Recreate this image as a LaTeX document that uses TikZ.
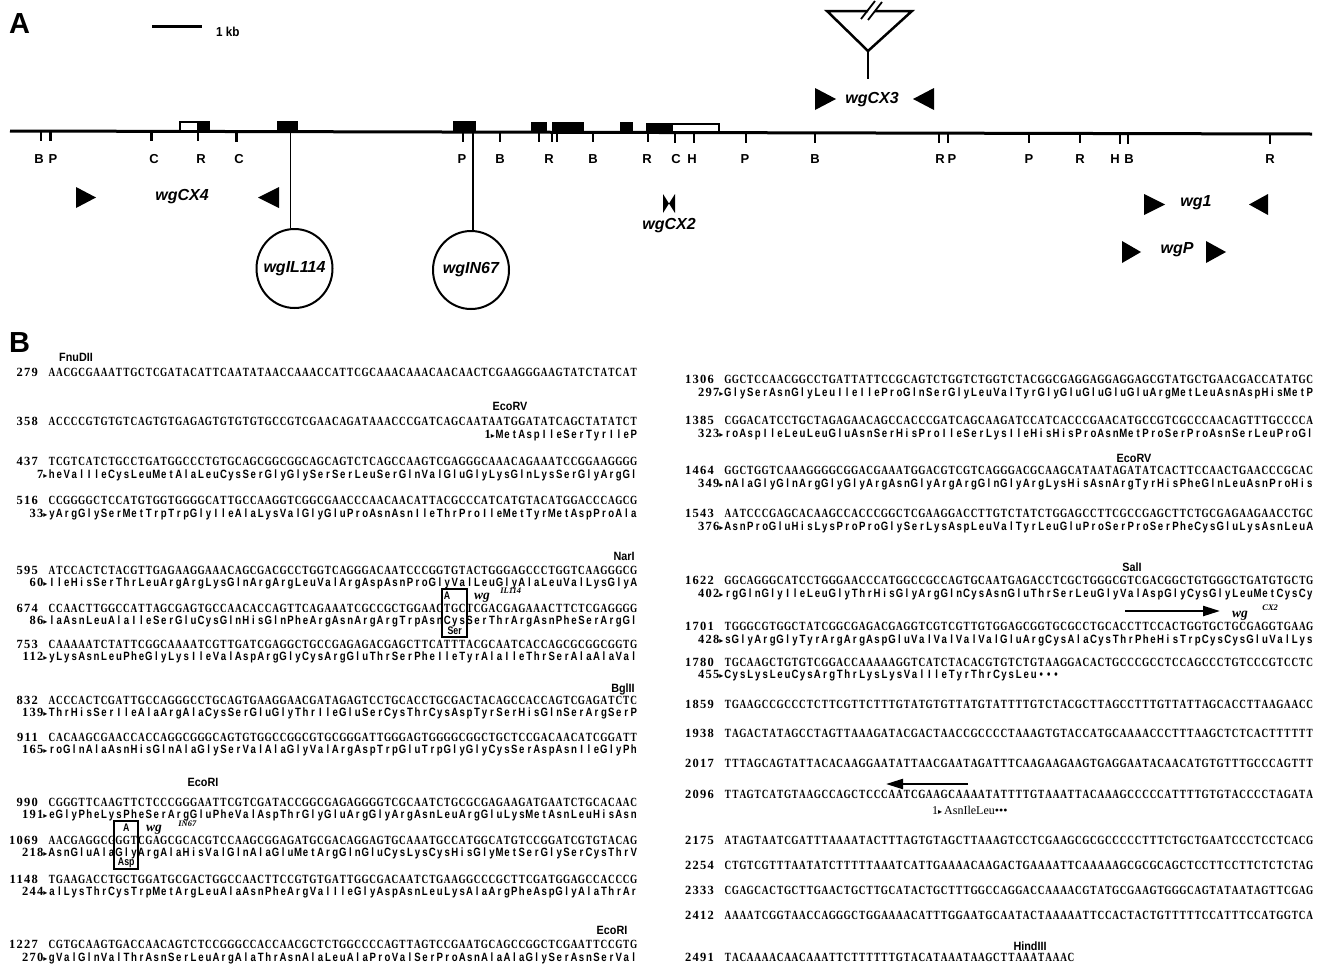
\documentclass[tikz,border=0pt]{standalone}
\usepackage{fontspec}
\usetikzlibrary{arrows.meta,shapes.geometric}
\setmainfont{Liberation Sans}
\newfontfamily\dnaf[FakeStretch=0.74]{Liberation Serif}
\newfontfamily\aaf[FakeStretch=0.8]{Liberation Sans}
\newfontfamily\numf[LetterSpace=10]{Liberation Serif}
\newfontfamily\wgf{Liberation Serif}
\newfontfamily\labf[FakeStretch=0.9]{Liberation Sans}
\newfontfamily\symf{DejaVu Sans}
\newlength\seqcw \setlength\seqcw{7.46pt}
\ExplSyntaxOn
\NewDocumentCommand\fixseq{m}{\tl_map_inline:nn{#1}{\makebox[\seqcw][c]{##1}}}
\ExplSyntaxOff
\tikzset{
 dnatext/.style={anchor=base west,inner sep=0pt,font=\dnaf\bfseries\fontsize{12.5}{13}\selectfont},
 aatext/.style={anchor=base west,inner sep=0pt,font=\aaf\bfseries\fontsize{12}{12}\selectfont},
 numtext/.style={anchor=base east,inner sep=0pt,font=\numf\bfseries\fontsize{12.5}{12.5}\selectfont},
 enz/.style={inner sep=0pt,font=\labf\bfseries\fontsize{12}{12}\selectfont},
 sitelab/.style={inner sep=0pt,font=\bfseries\fontsize{13}{13}\selectfont},
 rtick/.style={line width=2.6pt},
 gname/.style={inner sep=0pt,font=\bfseries\itshape\fontsize{16}{16}\selectfont},
 panel/.style={anchor=base west,inner sep=0pt,font=\bfseries\fontsize{29}{29}\selectfont},
 mutbox/.style={draw,line width=1.8pt},
 wglab/.style={anchor=base west,inner sep=0pt,font=\wgf\bfseries\itshape\fontsize{13.5}{13.5}\selectfont},
 wgsup/.style={anchor=base west,inner sep=0pt,font=\wgf\bfseries\itshape\fontsize{8.5}{9}\selectfont},
 mutlab/.style={inner sep=0pt,font=\aaf\bfseries\fontsize{11}{11}\selectfont},
 seqarrow/.style={line width=2.2pt,-{Triangle[length=17pt,width=10pt]}}
}
\newcommand\dnarow[5]{\node[dnatext] (#1) at (#2,#3) {\fixseq{#5}};
 \node[numtext] (#1n) at ({#2-10},#3) {#4};}
\newcommand\aarow[5]{\node[aatext] (#1) at (#2,#3) {\fixseq{#5}};
 \node[numtext] (#1n) at ({#2-0.5},#3) {#4{\symf\fontsize{8}{8}\selectfont ▸}};}
\begin{document}
\begin{tikzpicture}[x=1pt,y=-1pt]
\fill[white] (0,0) rectangle (1325,967);
\useasboundingbox (0,0) rectangle (1325,967);
% ================= Part A =================
\node[panel] (pA) at (9,33) {A};
\coordinate (sbL) at (152,26); \coordinate (sbR) at (202,26);
\draw[line width=3pt] (sbL) -- (sbR);
\node[anchor=base west,inner sep=0pt,font=\labf\bfseries\fontsize{13}{13}\selectfont] (kb) at (216,36) {1 kb};
\coordinate (gL) at (10,131); \coordinate (gR) at (1312,134);
\draw[line width=3pt] (gL) -- (gR);
% exons
\filldraw[fill=white,line width=2.4pt] (180.2,122.2) rectangle (208.8,131.4);
\fill (197,121) rectangle (210,131.5);
\fill (277,121) rectangle (298,131.7);
\fill (453,121) rectangle (476,132.1);
\fill (531,122) rectangle (547,132.2);
\fill (552,122) rectangle (584,132.3);
\fill (620,122) rectangle (633,132.4);
\filldraw[fill=white,line width=2.4pt] (647.2,124.2) rectangle (718.8,132.6);
\fill (646,123) rectangle (673,132.6);
% ticks
\foreach \x in {41,50.5,151.5,198,236.5,463,500,539,552,557,593,648,675,694,746,815,939,948,1029,1080,1120,1128,1270}
 \draw[rtick] (\x,{131+0.0023*(\x-10)}) -- ++(0,10);
\foreach \x/\t [count=\i] in {39/B,53/P,154/C,201/R,239/C,462/P,500/B,549/R,593/B,647/R,676/C,692/H,745/P,815/B,940/R,952/P,1029/P,1080/R,1115/H,1129/B,1270/R}
 \node[sitelab] (site\i) at (\x,159.5) {\t};
% insertion triangle
\coordinate (tL) at (827,11); \coordinate (tR) at (912,11); \coordinate (tA) at (868,51); \coordinate (tS) at (868,79);
\draw[line width=2.5pt,line join=miter] (868,11) -- (tL) -- (tA) -- (tR) -- (875,11);
\draw[line width=2.5pt] (tA) -- (tS);
\draw[line width=1.8pt] (861,19) -- (875,1);
\draw[line width=1.8pt] (868,20) -- (882,2);
% primers
\fill (815,88) -- (815,110) -- (836,99) -- cycle;
\fill (934,88) -- (934,110) -- (913,99) -- cycle;
\node[gname] (pCX3) at (872,100) {wgCX3};
\fill (76,187) -- (76,208) -- (96,197.5) -- cycle;
\fill (279,187) -- (279,208) -- (258,197.5) -- cycle;
\node[gname] (pCX4) at (182,197) {wgCX4};
\fill (663,194) -- (663,213) -- (669,203.5) -- cycle;
\fill (675,194) -- (675,213) -- (669,203.5) -- cycle;
\node[gname] (pCX2) at (669,226) {wgCX2};
\fill (1144,194) -- (1144,215) -- (1165,204.5) -- cycle;
\fill (1268,194) -- (1268,215) -- (1249,204.5) -- cycle;
\node[gname] (pwg1) at (1196,203) {wg1};
\fill (1122,241) -- (1122,263) -- (1141,252) -- cycle;
\fill (1206,241) -- (1206,263) -- (1226,252) -- cycle;
\node[gname] (pwgP) at (1177,250) {wgP};
% alleles
\node[draw,ellipse,line width=2pt,minimum width=76pt,minimum height=79pt,inner sep=0pt] (cIL) at (294.5,268.5) {};
\node[gname] (tIL) at (cIL) {wgIL114};
\coordinate (sIL) at (290.4,131.6);
\draw[line width=1.8pt] (sIL) -- (sIL |- cIL.north);
\node[draw,ellipse,line width=2pt,minimum width=76pt,minimum height=78pt,inner sep=0pt] (cIN) at (471,270) {};
\node[gname] (tIN) at (cIN) {wgIN67};
\coordinate (sIN) at (473.3,132);
\draw[line width=1.8pt] (sIN) -- (sIN |- cIN.north);
% ================= Part B =================
\node[panel] (pB) at (9,352) {B};
% ---- left column
\node[enz] (eFnu) at (76,357) {FnuDII};
\dnarow{d279}{48}{376}{279}{AACGCGAAATTGCTCGATACATTCAATATAACCAAACCATTCGCAAACAAACAACAACTCGAAGGGAAGTATCTATCAT}
\node[enz] (eRV1) at (510,406) {EcoRV};
\dnarow{d358}{48}{425}{358}{ACCCCGTGTGTCAGTGTGAGAGTGTGTGTGCCGTCGAACAGATAAACCCGATCAGCAATAATGGATATCAGCTATATCT}
\aarow{a1}{495.6}{438}{1}{MetAspIleSerTyrIleP}
\dnarow{d437}{48}{465}{437}{TCGTCATCTGCCTGATGGCCCTGTGCAGCGGCGGCAGCAGTCTCAGCCAAGTCGAGGGCAAACAGAAATCCGGAAGGGG}
\aarow{a7}{48}{478}{7}{heValIleCysLeuMetAlaLeuCysSerGlyGlySerSerLeuSerGlnValGluGlyLysGlnLysSerGlyArgGl}
\dnarow{d516}{48}{504}{516}{CCGGGGCTCCATGTGGTGGGGCATTGCCAAGGTCGGCGAACCCAACAACATTACGCCCATCATGTACATGGACCCAGCG}
\aarow{a33}{48}{517}{33}{yArgGlySerMetTrpTrpGlyIleAlaLysValGlyGluProAsnAsnIleThrProIleMetTyrMetAspProAla}
\node[enz] (eNar) at (624,556) {NarI};
\dnarow{d595}{48}{574}{595}{ATCCACTCTACGTTGAGAAGGAAACAGCGACGCCTGGTCAGGGACAATCCCGGTGTACTGGGAGCCCTGGTCAAGGGCG}
\aarow{a60}{48}{586}{60}{IleHisSerThrLeuArgArgLysGlnArgArgLeuValArgAspAsnProGlyValLeuGlyAlaLeuValLysGlyA}
\dnarow{d674}{48}{612}{674}{CCAACTTGGCCATTAGCGAGTGCCAACACCAGTTCAGAAATCGCCGCTGGAACTGCTCGACGAGAAACTTCTCGAGGGG}
\aarow{a86}{48}{624}{86}{laAsnLeuAlaIleSerGluCysGlnHisGlnPheArgAsnArgArgTrpAsnCysSerThrArgAsnPheSerArgGl}
\node[mutbox,minimum width=25pt,minimum height=48pt,inner sep=0pt] (bIL) at (454.6,613) {};
\node[mutlab] (mIL1) at (447.1,596) {A};
\node[mutlab] (mIL2) at (454.6,631) {Ser};
\node[wglab] (wIL) at (474,599.5) {wg};
\node[wgsup] (wILs) at ([xshift=10pt,yshift=6pt]wIL.base east) {IL114};
\dnarow{d753}{48}{648}{753}{CAAAAATCTATTCGGCAAAATCGTTGATCGAGGCTGCCGAGAGACGAGCTTCATTTACGCAATCACCAGCGCGGCGGTG}
\aarow{a112}{48}{660}{112}{yLysAsnLeuPheGlyLysIleValAspArgGlyCysArgGluThrSerPheIleTyrAlaIleThrSerAlaAlaVal}
\node[enz] (eBgl) at (623,689) {BglII};
\dnarow{d832}{48}{704}{832}{ACCCACTCGATTGCCAGGGCCTGCAGTGAAGGAACGATAGAGTCCTGCACCTGCGACTACAGCCACCAGTCGAGATCTC}
\aarow{a139}{48}{716}{139}{ThrHisSerIleAlaArgAlaCysSerGluGlyThrIleGluSerCysThrCysAspTyrSerHisGlnSerArgSerP}
\dnarow{d911}{48}{741}{911}{CACAAGCGAACCACCAGGCGGGCAGTGTGGCCGGCGTGCGGGATTGGGAGTGGGGCGGCTGCTCCGACAACATCGGATT}
\aarow{a165}{48}{753}{165}{roGlnAlaAsnHisGlnAlaGlySerValAlaGlyValArgAspTrpGluTrpGlyGlyCysSerAspAsnIleGlyPh}
\node[enz] (eRI1) at (203,782) {EcoRI};
\dnarow{d990}{48}{806}{990}{CGGGTTCAAGTTCTCCCGGGAATTCGTCGATACCGGCGAGAGGGGTCGCAATCTGCGCGAGAAGATGAATCTGCACAAC}
\aarow{a191}{48}{818}{191}{eGlyPheLysPheSerArgGluPheValAspThrGlyGluArgGlyArgAsnLeuArgGluLysMetAsnLeuHisAsn}
\dnarow{d1069}{48}{844}{1069}{AACGAGGCGGGTCGAGCGCACGTCCAAGCGGAGATGCGACAGGAGTGCAAATGCCATGGCATGTCCGGATCGTGTACAG}
\aarow{a218}{48}{856}{218}{AsnGluAlaGlyArgAlaHisValGlnAlaGluMetArgGlnGluCysLysCysHisGlyMetSerGlySerCysThrV}
\node[mutbox,minimum width=24pt,minimum height=48pt,inner sep=0pt] (bIN) at (126.3,845) {};
\node[mutlab] (mIN1) at (126.3,828) {A};
\node[mutlab] (mIN2) at (126.3,863) {Asp};
\node[wglab] (wIN) at (146,831.5) {wg};
\node[wgsup] (wINs) at ([xshift=16pt,yshift=5pt]wIN.base east) {IN67};
\dnarow{d1148}{48}{883}{1148}{TGAAGACCTGCTGGATGCGACTGGCCAACTTCCGTGTGATTGGCGACAATCTGAAGGCCCGCTTCGATGGAGCCACCCG}
\aarow{a244}{48}{895}{244}{alLysThrCysTrpMetArgLeuAlaAsnPheArgValIleGlyAspAsnLeuLysAlaArgPheAspGlyAlaThrAr}
\node[enz] (eRI2) at (612,930) {EcoRI};
\dnarow{d1227}{48}{948}{1227}{CGTGCAAGTGACCAACAGTCTCCGGGCCACCAACGCTCTGGCCCCAGTTAGTCCGAATGCAGCCGGCTCGAATTCCGTG}
\aarow{a270}{48}{961}{270}{gValGlnValThrAsnSerLeuArgAlaThrAsnAlaLeuAlaProValSerProAsnAlaAlaGlySerAsnSerVal}
% ---- right column
\dnarow{d1306}{724}{383}{1306}{GGCTCCAACGGCCTGATTATTCCGCAGTCTGGTCTGGTCTACGGCGAGGAGGAGGAGCGTATGCTGAACGACCATATGC}
\aarow{a297}{724}{396}{297}{GlySerAsnGlyLeuIleIleProGlnSerGlyLeuValTyrGlyGluGluGluGluArgMetLeuAsnAspHisMetP}
\dnarow{d1385}{724}{424}{1385}{CGGACATCCTGCTAGAGAACAGCCACCCGATCAGCAAGATCCATCACCCGAACATGCCGTCGCCCAACAGTTTGCCCCA}
\aarow{a323}{724}{437}{323}{roAspIleLeuLeuGluAsnSerHisProIleSerLysIleHisHisProAsnMetProSerProAsnSerLeuProGl}
\node[enz] (eRV2) at (1134,458) {EcoRV};
\dnarow{d1464}{724}{474}{1464}{GGCTGGTCAAAGGGGCGGACGAAATGGACGTCGTCAGGGACGCAAGCATAATAGATATCACTTCCAACTGAACCCGCAC}
\aarow{a349}{724}{487}{349}{nAlaGlyGlnArgGlyGlyArgAsnGlyArgArgGlnGlyArgLysHisAsnArgTyrHisPheGlnLeuAsnProHis}
\dnarow{d1543}{724}{517}{1543}{AATCCCGAGCACAAGCCACCCGGCTCGAAGGACCTTGTCTATCTGGAGCCTTCGCCGAGCTTCTGCGAGAAGAACCTGC}
\aarow{a376}{724}{530}{376}{AsnProGluHisLysProProGlySerLysAspLeuValTyrLeuGluProSerProSerPheCysGluLysAsnLeuA}
\node[enz] (eSal) at (1132,567) {SalI};
\dnarow{d1622}{724}{584}{1622}{GGCAGGGCATCCTGGGAACCCATGGCCGCCAGTGCAATGAGACCTCGCTGGGCGTCGACGGCTGTGGGCTGATGTGCTG}
\aarow{a402}{724}{597}{402}{rgGlnGlyIleLeuGlyThrHisGlyArgGlnCysAsnGluThrSerLeuGlyValAspGlyCysGlyLeuMetCysCy}
\coordinate (arA1) at (1125,611); \coordinate (arA2) at (1220,611);
\draw[seqarrow] (arA1) -- (arA2);
\node[wglab] (wCX) at (1232,617.5) {wg};
\node[wgsup] (wCXs) at ([xshift=14pt,yshift=7pt]wCX.base east) {CX2};
\dnarow{d1701}{724}{630}{1701}{TGGGCGTGGCTATCGGCGAGACGAGGTCGTCGTTGTGGAGCGGTGCGCCTGCACCTTCCACTGGTGCTGCGAGGTGAAG}
\aarow{a428}{724}{643}{428}{sGlyArgGlyTyrArgArgAspGluValValValValGluArgCysAlaCysThrPheHisTrpCysCysGluValLys}
\dnarow{d1780}{724}{666}{1780}{TGCAAGCTGTGTCGGACCAAAAAGGTCATCTACACGTGTCTGTAAGGACACTGCCCGCCTCCAGCCCTGTCCCGTCCTC}
\aarow{a455}{724}{678}{455}{CysLysLeuCysArgThrLysLysValIleTyrThrCysLeu•••}
\dnarow{d1859}{724}{708}{1859}{TGAAGCCGCCCTCTTCGTTCTTTGTATGTGTTATGTATTTTGTCTACGCTTAGCCTTTGTTATTAGCACCTTAAGAACC}
\dnarow{d1938}{724}{737}{1938}{TAGACTATAGCCTAGTTAAAGATACGACTAACCGCCCCTAAAGTGTACCATGCAAAACCCTTTAAGCTCTCACTTTTTT}
\dnarow{d2017}{724}{767}{2017}{TTTAGCAGTATTACACAAGGAATATTAACGAATAGATTTCAAGAAGAAGTGAGGAATACAACATGTGTTTGCCCAGTTT}
\coordinate (arB1) at (968,784); \coordinate (arB2) at (886,784);
\draw[seqarrow] (arB1) -- (arB2);
\dnarow{d2096}{724}{798}{2096}{TTAGTCATGTAAGCCAGCTCCCAATCGAAGCAAAATATTTTGTAAATTACAAAGCCCCCATTTTGTGTACCCCTAGATA}
\node[anchor=base west,inner sep=0pt,font=\wgf\fontsize{12}{12}\selectfont] (asn) at (932,814) {1{\symf\fontsize{8}{8}\selectfont ▸}\,AsnIleLeu•••};
\dnarow{d2175}{724}{844}{2175}{ATAGTAATCGATTTAAAATACTTTAGTGTAGCTTAAAGTCCTCGAAGCGCGCCCCCTTTCTGCTGAATCCCTCCTCACG}
\dnarow{d2254}{724}{869}{2254}{CTGTCGTTTAATATCTTTTTAAATCATTGAAAACAAGACTGAAAATTCAAAAAGCGCGCAGCTCCTTCCTTCTCTCTAG}
\dnarow{d2333}{724}{894}{2333}{CGAGCACTGCTTGAACTGCTTGCATACTGCTTTGGCCAGGACCAAAACGTATGCGAAGTGGGCAGTATAATAGTTCGAG}
\dnarow{d2412}{724}{919}{2412}{AAAATCGGTAACCAGGGCTGGAAAACATTTGGAATGCAATACTAAAAATTCCACTACTGTTTTTCCATTTCCATGGTCA}
\node[enz] (eHind) at (1030,946) {HindIII};
\dnarow{d2491}{724}{961}{2491}{TACAAAACAACAAATTCTTTTTTGTACATAAATAAGCTTAAATAAAC}
\end{tikzpicture}
\end{document}
